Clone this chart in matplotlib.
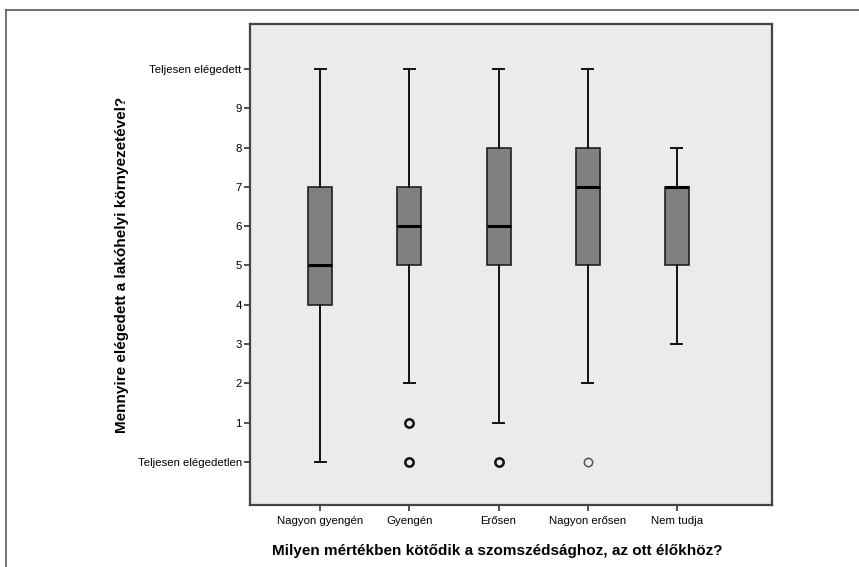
import matplotlib.pyplot as plt
from matplotlib.lines import Line2D

plt.rcParams['font.family'] = ['Liberation Sans', 'DejaVu Sans']

# Kategóriák és boxplot statisztikák (leolvasva)
categories = ["Nagyon gyengén", "Gyengén", "Erősen", "Nagyon erősen", "Nem tudja"]
whisker_low = [0, 2, 1, 2, 3]
q1 = [4, 5, 5, 5, 5]
medians = [5, 6, 6, 7, 7]
q3 = [7, 7, 8, 8, 7]
whisker_high = [10, 10, 10, 10, 8]
outliers = [[], [1, 0], [0], [0], []]

y_ticks = [0, 1, 2, 3, 4, 5, 6, 7, 8, 9, 10]
y_labels = ["Teljesen elégedetlen", "1", "2", "3", "4", "5", "6", "7", "8", "9",
            "Teljesen elégedett"]

stats = []
for i, name in enumerate(categories):
    stats.append({
        "label": name,
        "whislo": whisker_low[i],
        "q1": q1[i],
        "med": medians[i],
        "q3": q3[i],
        "whishi": whisker_high[i],
        "fliers": outliers[i],
    })

fig = plt.figure(figsize=(8.59, 5.67), dpi=100)
ax = fig.add_axes([250 / 859, 1 - 505 / 567, 522 / 859, 481 / 567])
ax.set_facecolor("#ebebeb")

positions = list(range(1, len(categories) + 1))
bp = ax.bxp(
    stats,
    positions=positions,
    widths=0.27,
    patch_artist=True,
    boxprops=dict(facecolor="#808080", edgecolor="#222222", linewidth=1.2),
    medianprops=dict(color="black", linewidth=2.2),
    whiskerprops=dict(color="#111111", linewidth=1.4),
    capprops=dict(color="#111111", linewidth=1.4),
    capwidths=0.13,
    flierprops=dict(marker="o", markerfacecolor="none", markeredgecolor="#111111",
                    markersize=6, markeredgewidth=1.8),
)
# a "Nagyon erősen" kiugró értéke halványabb
bp["fliers"][3].set_markeredgecolor("#555555")
bp["fliers"][3].set_markeredgewidth(1.1)

ax.set_xlim(0.21, 6.07)
ax.set_ylim(-1.1, 11.15)
ax.set_xticks(positions)
ax.set_xticklabels(categories, fontsize=8.2)
ax.set_yticks(y_ticks)
ax.set_yticklabels(y_labels, fontsize=8.2)
ax.tick_params(axis="both", direction="out", length=4, width=1.2, color="#333333", pad=2)
ax.tick_params(axis="x", pad=4)

for side in ["left", "right", "top", "bottom"]:
    ax.spines[side].set_color("#444444")
    ax.spines[side].set_linewidth(1.6)

ax.set_xlabel("Milyen mértékben kötődik a szomszédsághoz, az ott élőkhöz?",
              fontsize=11, fontweight="bold")
ax.set_ylabel("Mennyire elégedett a lakóhelyi környezetével?",
              fontsize=11, fontweight="bold", labelpad=6)
ax.xaxis.set_label_coords(0.473, -0.081)

# Külső keret (bal és felső vonal)
fig.add_artist(Line2D([6 / 859, 6 / 859], [0, 1 - 10 / 567], transform=fig.transFigure,
                      color="#777777", linewidth=1.5))
fig.add_artist(Line2D([6 / 859, 1], [1 - 10 / 567, 1 - 10 / 567], transform=fig.transFigure,
                      color="#555555", linewidth=1.2))

fig.savefig("out.png", dpi=100)
